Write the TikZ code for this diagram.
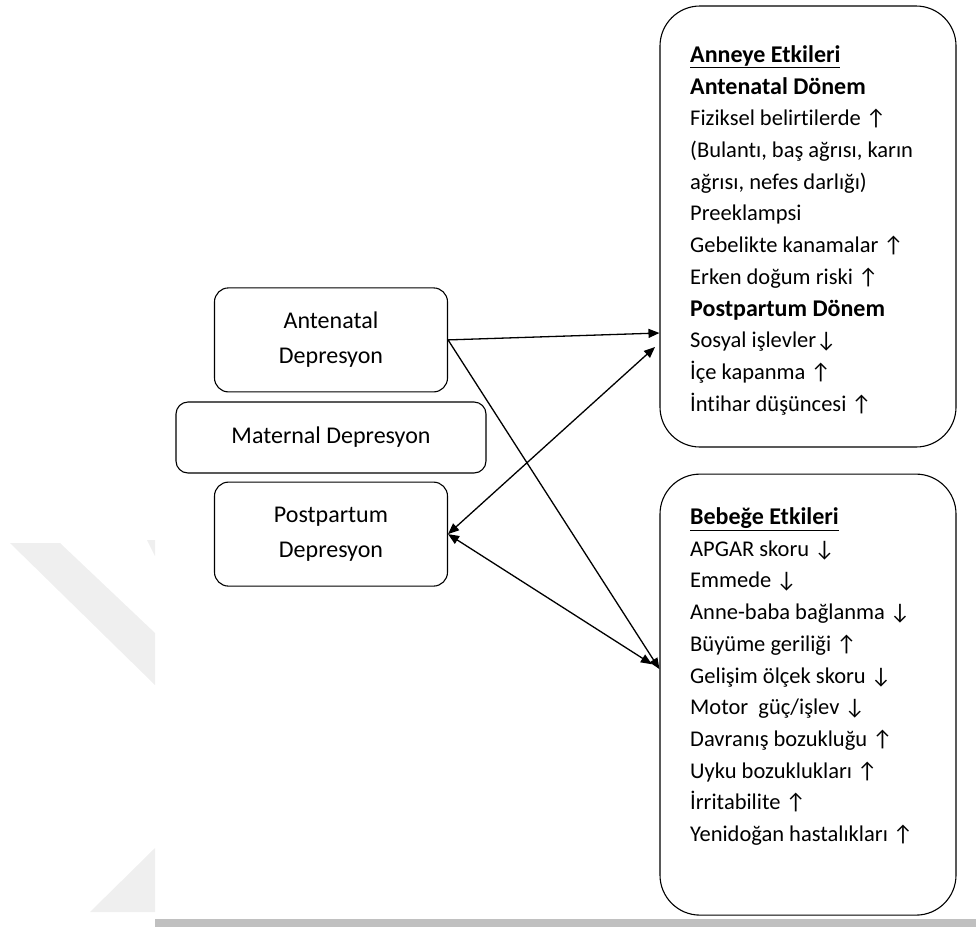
\documentclass[tikz,border=0pt]{standalone}
\usepackage{fontspec}
\setmainfont[Ligatures=NoCommon]{Carlito}
\usepackage{tikz}
\usetikzlibrary{positioning, arrows.meta}
\definecolor{wmark}{HTML}{EFEFEF}
\definecolor{barcolor}{HTML}{C0C0C0}
\newcommand{\yukari}{↑}
\newcommand{\asagi}{↓}
\newcommand{\baslik}[1]{{\fontsize{24}{31.7}\selectfont\bfseries #1}}
\tikzset{
>={Triangle[length=11pt,width=9pt]}, % filled arrow heads
link/.style={line width=1.3pt}, % the connectors
depbox/.style={draw, rounded corners=14pt, line width=1.1pt, minimum width=233pt, minimum height=104pt, align=center, font=\fontsize{24}{35}\selectfont}, % boxes on the left
etkibox/.style={draw, rounded corners=40pt, line width=1.1pt, minimum width=296pt, minimum height=441pt}, % boxes on the right
etkitext/.style={anchor=north west, inner sep=0pt, align=left, font=\fontsize{22.5}{31.7}\selectfont}, % lists in the boxes
}

\begin{document}
\begin{tikzpicture}[x=1pt, y=-1pt]
  \useasboundingbox (0,0) rectangle (976,927);

  % background marks
  \fill[wmark] (10,543) -- (60,543) -- (155,633) -- (155,685) -- cycle;
  \fill[wmark] (147,540) -- (155,540) -- (155,556) -- cycle;
  \fill[wmark] (90,912) -- (155,912) -- (155,848) -- cycle;
  \fill[barcolor] (155,919) rectangle (976,927);

  \node[depbox, rounded corners=12pt, minimum width=310pt, minimum height=71pt] (mat) at (331,437.5) {Maternal Depresyon};
  \node[depbox, above=9pt of mat] (ant) {Antenatal\\Depresyon};
  \node[depbox, below=8pt of mat] (post) {Postpartum\\Depresyon};

  \node[etkibox] (anne) at (808,226.5) {};
  \node[etkibox, below=26pt of anne] (bebek) {};

  \node[etkitext] (anneliste) at (690,45.4) {\underline{\baslik{Anneye Etkileri}}\\
    \baslik{Antenatal Dönem}\\
    Fiziksel belirtilerde \yukari\\
    (Bulantı, baş ağrısı, karın\\
    ağrısı, nefes darlığı)\\
    Preeklampsi\\
    Gebelikte kanamalar \yukari\\
    Erken doğum riski \yukari\\
    \baslik{Postpartum Dönem}\\
    Sosyal işlevler\asagi\\
    İçe kapanma \yukari\\
    İntihar düşüncesi \yukari};

  \node[etkitext] (bebekliste) at (690,507.5) {\underline{\baslik{Bebeğe Etkileri}}\\
    APGAR skoru \asagi\\
    Emmede \asagi\\
    Anne-baba bağlanma \asagi\\
    Büyüme geriliği \yukari\\
    Gelişim ölçek skoru \asagi\\
    Motor~ güç/işlev \asagi\\
    Davranış bozukluğu \yukari\\
    Uyku bozuklukları \yukari\\
    İrritabilite \yukari\\
    Yenidoğan hastalıkları \yukari};

  \draw[link, ->] (ant.east) -- ([yshift=-106.5pt]anne.west);
  \draw[link, ->] (ant.east) -- ([yshift=25.5pt]bebek.west);
  \draw[link, <->, shorten >=6pt] (post.east) -- ([yshift=-116.5pt]anne.west);
  \draw[link, <->, shorten >=9pt] (post.east) -- ([yshift=25.5pt]bebek.west);

\end{tikzpicture}
\end{document}
